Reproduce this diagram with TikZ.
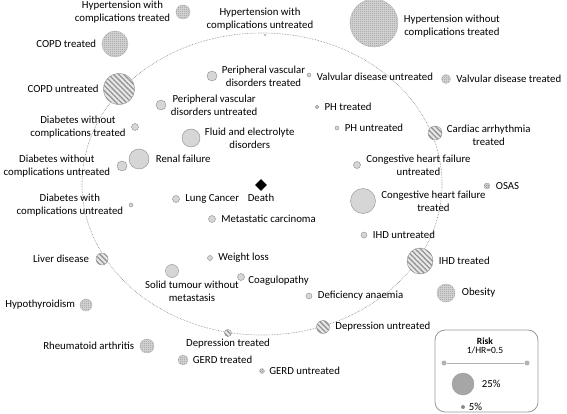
\documentclass[tikz,border=0pt]{standalone}
\usepackage{fontspec}
\setmainfont{Carlito}
\usetikzlibrary{patterns, patterns.meta, shapes.geometric}

\pgfdeclarepatternformonly{finecheck}{\pgfqpoint{0pt}{0pt}}{\pgfqpoint{2pt}{2pt}}{\pgfqpoint{2pt}{2pt}}{%
\pgfpathrectangle{\pgfqpoint{0pt}{0pt}}{\pgfqpoint{1pt}{1pt}}%
\pgfpathrectangle{\pgfqpoint{1pt}{1pt}}{\pgfqpoint{1pt}{1pt}}%
\pgfusepath{fill}}

\begin{document}
\begin{tikzpicture}[
x=1pt, y=-1pt,
bubble/.style={circle, draw=gray!90, fill=gray!32, inner sep=0pt, minimum size=#1},
hatched/.style={circle, draw=gray!90, fill=gray!18, inner sep=0pt, minimum size=#1, postaction={pattern={Lines[angle=-45, distance=3.6pt, line width=1.3pt]}, pattern color=gray!85}},
speckled/.style={circle, draw=gray!55, fill=gray!30, inner sep=0pt, minimum size=#1, postaction={pattern=finecheck, pattern color=gray!85}},
fontnode/.style={font=\fontsize{10.8}{13}\selectfont, align=center, inner sep=1.5pt},
legendnode/.style={font=\fontsize{9.5}{11}\selectfont, inner sep=1pt}
]

\useasboundingbox (0,0) rectangle (567,414);

%%%% RING
\draw[gray, densely dotted, line width=.6pt] (262,184) ellipse [x radius=180, y radius=151];

%%%% DEATH
\node[diamond, fill=black, inner sep=0pt, minimum size=12pt] (Death) at (261,185) {};
\path (Death.south) node[below, yshift=-1pt, fontnode]{Death};

%%%% TOP
\node[speckled=14pt] (HTcT) at (183,12) {};
\path (HTcT.west) node[left=4pt, fontnode]{Hypertension with\\complications treated};
\node[circle, fill=gray!60, inner sep=0pt, minimum size=2.5pt] (HTcU) at (265,35) {};
\path (HTcU.north) node[above=2pt, xshift=-5pt, fontnode]{Hypertension with\\complications untreated};
\node[speckled=48pt] (HTwT) at (374,23) {};
\path (HTwT.east) node[right=4pt, yshift=-3pt, fontnode]{Hypertension without\\complications treated};

%% COPD
\node[speckled=26pt] (COPDt) at (115,44) {};
\path (COPDt.west) node[left=4pt, fontnode]{COPD treated};
\node[hatched=31pt] (COPDu) at (119,89) {};
\path (COPDu.west) node[left=3pt, fontnode]{COPD untreated};

%% PERIPHERAL, FLUID
\node[bubble=10pt] (PVDt) at (212,76) {};
\path (PVDt.east) node[right=3pt, fontnode]{Peripheral vascular\\disorders treated};
\node[bubble=10pt] (PVDu) at (161,105) {};
\path (PVDu.east) node[right=3pt, fontnode]{Peripheral vascular\\disorders untreated};
\node[bubble=18pt] (FED) at (191,138) {};
\path (FED.east) node[right=3pt, fontnode]{Fluid and electrolyte\\disorders};

%% VALVULAR, PH
\node[bubble=4pt] (VDu) at (309,75) {};
\path (VDu.east) node[right=4pt, yshift=-2pt, fontnode]{Valvular disease untreated};
\node[speckled=9pt] (VDt) at (446,79) {};
\path (VDt.east) node[right=4pt, fontnode]{Valvular disease treated};
\node[bubble=3.5pt] (PHt) at (317,107) {};
\path (PHt.east) node[right=4pt, fontnode]{PH treated};
\node[bubble=4pt] (PHu) at (337,128) {};
\path (PHu.east) node[right=4pt, fontnode]{PH untreated};

%%%% RIGHT
\node[hatched=14pt] (CAt) at (435,133) {};
\path (CAt.east) node[right=3pt, yshift=-2pt, fontnode]{Cardiac arrhythmia\\treated};
\node[bubble=7pt] (CHFu) at (357,165) {};
\path (CHFu.east) node[right=4pt, fontnode]{Congestive heart failure\\untreated};
\node[speckled=6pt] (OSAS) at (487,186) {};
\path (OSAS.east) node[right=4pt, fontnode]{OSAS};
\node[bubble=25pt] (CHFt) at (363,201) {};
\path (CHFt.east) node[right=4pt, fontnode]{Congestive heart failure\\treated};
\node[bubble=6pt] (IHDu) at (364,235) {};
\path (IHDu.east) node[right=4pt, fontnode]{IHD untreated};
\node[hatched=26pt] (IHDt) at (420,261) {};
\path (IHDt.east) node[right=4pt, fontnode]{IHD treated};
\node[speckled=18pt] (Obes) at (446,293) {};
\path (Obes.east) node[right=5pt, fontnode]{Obesity};

%%%% LEFT
\node[bubble=7pt] (DMwoT) at (135,127) {};
\path (DMwoT.west) node[left=4pt, fontnode]{Diabetes without\\complications treated};
\node[bubble=10pt] (DMwoU) at (122,166) {};
\path (DMwoU.west) node[left=5pt, fontnode]{Diabetes without\\complications untreated};
\node[bubble=20pt] (RF) at (139,159) {};
\path (RF.east) node[right=5pt, fontnode]{Renal failure};
\node[bubble=4pt] (DMwU) at (131,205) {};
\path (DMwU.west) node[left=4pt, fontnode]{Diabetes with\\complications untreated};
\node[hatched=12pt] (LD) at (102,259) {};
\path (LD.west) node[left=5pt, fontnode]{Liver disease};
\node[speckled=12pt] (Hypo) at (86,305) {};
\path (Hypo.west) node[left=3pt, fontnode]{Hypothyroidism};
\node[speckled=14pt] (RA) at (147,346) {};
\path (RA.west) node[left=4pt, fontnode]{Rheumatoid arthritis};

%%%% CENTRE
\node[bubble=7pt] (LC) at (176,199) {};
\path (LC.east) node[right=4pt, fontnode]{Lung Cancer};
\node[bubble=7pt] (MC) at (212,219) {};
\path (MC.east) node[right=4pt, fontnode]{Metastatic carcinoma};
\node[bubble=5pt] (WL) at (210,258) {};
\path (WL.east) node[right=4pt, fontnode]{Weight loss};
\node[bubble=13pt] (STwM) at (172,271) {};
\path (STwM.south) node[below=2pt, xshift=20pt, fontnode]{Solid tumour without\\metastasis};
\node[bubble=7pt] (Coag) at (241,277) {};
\path (Coag.east) node[right=2pt, yshift=-4pt, fontnode]{Coagulopathy};
\node[bubble=6pt] (DA) at (309,296) {};
\path (DA.east) node[right=4pt, fontnode]{Deficiency anaemia};

%%%% BOTTOM
\node[hatched=7pt] (DepT) at (228,333) {};
\path (DepT.south) node[below=1pt, fontnode]{Depression treated};
\node[hatched=13pt] (DepU) at (323,327) {};
\path (DepU.east) node[right=4pt, fontnode]{Depression untreated};
\node[speckled=10pt] (GERDt) at (183,360) {};
\path (GERDt.east) node[right=3pt, fontnode]{GERD treated};
\node[speckled=5pt] (GERDu) at (262,371) {};
\path (GERDu.east) node[right=3pt, fontnode]{GERD untreated};

%%%% LEGEND
\draw[gray!80, line width=.8pt, rounded corners=10pt] (435,330) rectangle (538,412);
\node[legendnode] (Risk) at (485,341) {\textbf{Risk}};
\path (Risk.south) node[below, legendnode] (HR) {1/HR=0.5};
\node[circle, fill=gray!60, inner sep=0pt, minimum size=5pt] (L1) at (444,363) {};
\node[circle, fill=gray!60, inner sep=0pt, minimum size=5pt] (L2) at (527,363) {};
\draw[gray!60, line width=.8pt] (L1)--(L2);
\node[circle, draw=gray!80, fill=gray!70, inner sep=0pt, minimum size=22pt] (R25) at (463,384) {};
\path (R25.east) node[right=6pt, fontnode]{25\%};
\node[circle, fill=gray!90, inner sep=0pt, minimum size=4pt] (R5) at (463,407) {};
\path (R5.east) node[right=2pt, fontnode]{5\%};

\end{tikzpicture}
\end{document}
